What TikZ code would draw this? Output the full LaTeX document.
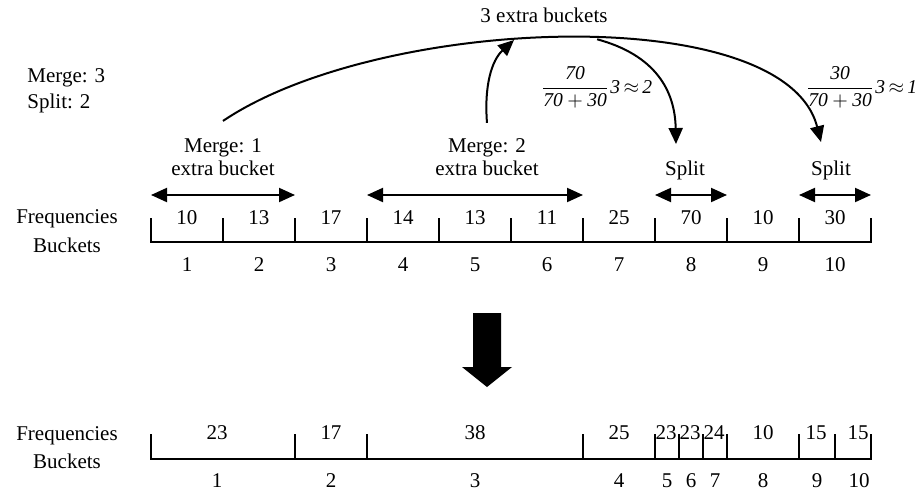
\documentclass[tikz,border=0pt]{standalone}
\usepackage{fontspec}
\setmainfont{Liberation Serif}
\usetikzlibrary{arrows.meta}

\tikzset{
  lbl/.style={font=\fontsize{10.5}{12}\selectfont, inner sep=0pt},
  frac/.style={font=\fontsize{9.8}{12}\selectfont, inner sep=0pt, anchor=base west},
  axis/.style={line width=1.2pt},
  span/.style={<->, line width=1pt},
  link/.style={->, line width=1pt},
}

\begin{document}
\begin{tikzpicture}[x=0.5pt,y=-0.5pt,>={Triangle[length=8pt,width=7pt]}]
\useasboundingbox (0,0) rectangle (918,493);

%% histogram before: ten buckets
\coordinate (a0) at (151,242);
\coordinate (a1) at (223,242);
\coordinate (a2) at (295,242);
\coordinate (a3) at (367,242);
\coordinate (a4) at (439,242);
\coordinate (a5) at (511,242);
\coordinate (a6) at (583,242);
\coordinate (a7) at (655,242);
\coordinate (a8) at (727,242);
\coordinate (a9) at (799,242);
\coordinate (a10) at (871,242);
\draw[axis] ([yshift=12pt]a0) -- (a0) -- (a10) -- ([yshift=12pt]a10);
\draw[axis] (a1) -- ++(0,-24) (a2) -- ++(0,-24) (a3) -- ++(0,-24) (a4) -- ++(0,-24) (a5) -- ++(0,-24)
  (a6) -- ++(0,-24) (a7) -- ++(0,-24) (a8) -- ++(0,-24) (a9) -- ++(0,-24);

\node[lbl,anchor=base] (freqA) at (67,223) {Frequencies};
\node[lbl,anchor=base] (buckA) at (67,252) {Buckets};

\node[lbl] (fa1) at (187,218) {10};
\node[lbl] (fa2) at (259,218) {13};
\node[lbl] (fa3) at (331,218) {17};
\node[lbl] (fa4) at (403,218) {14};
\node[lbl] (fa5) at (475,218) {13};
\node[lbl] (fa6) at (547,218) {11};
\node[lbl] (fa7) at (619,218) {25};
\node[lbl] (fa8) at (691,218) {70};
\node[lbl] (fa9) at (763,218) {10};
\node[lbl] (fa10) at (835,218) {30};

\node[lbl] (na1) at (187,265) {1};
\node[lbl] (na2) at (259,265) {2};
\node[lbl] (na3) at (331,265) {3};
\node[lbl] (na4) at (403,265) {4};
\node[lbl] (na5) at (475,265) {5};
\node[lbl] (na6) at (547,265) {6};
\node[lbl] (na7) at (619,265) {7};
\node[lbl] (na8) at (691,265) {8};
\node[lbl] (na9) at (763,265) {9};
\node[lbl] (na10) at (835,265) {10};

% merge / split ranges
\draw[span] ([yshift=23.5pt]a0) -- ([yshift=23.5pt]a2);
\draw[span] ([yshift=23.5pt]a3) -- ([yshift=23.5pt]a6);
\draw[span] ([yshift=23.5pt]a7) -- ([yshift=23.5pt]a8);
\draw[span] ([yshift=23.5pt]a9) -- ([yshift=23.5pt]a10);

\node[lbl,anchor=base] (mergeA) at (223,152) {Merge: 1};
\node[lbl,anchor=base] (extraA) at (223,175) {extra bucket};
\node[lbl,anchor=base] (mergeB) at (487,152) {Merge: 2};
\node[lbl,anchor=base] (extraB) at (487,175) {extra bucket};
\node[lbl,anchor=base] (splitA) at (685,175) {Split};
\node[lbl,anchor=base] (splitB) at (831,175) {Split};

\node[lbl,anchor=base west] (mergetot) at (27,82) {Merge: 3};
\node[lbl,anchor=base west] (splittot) at (27,108) {Split: 2};
\node[lbl,anchor=base] (extratot) at (544,22) {3 extra buckets};

\node[frac] (shareA) at (543,93) {$\nulldelimiterspace=0pt\thickmuskip=3mu\displaystyle\frac{\textit{70}}{\textit{70}+\textit{30}}\,\textit{3}\approx\textit{2}$};
\node[frac] (shareB) at (808,93) {$\nulldelimiterspace=0pt\thickmuskip=3mu\displaystyle\frac{\textit{30}}{\textit{70}+\textit{30}}\,\textit{3}\approx\textit{1}$};

% pool of extra buckets
\draw[link] ([yshift=8.4pt]mergeA.north) .. controls (380,15) and (785,0) .. coordinate[pos=0.43] (join) coordinate[pos=0.54] (fork) ([xshift=-5pt,yshift=9pt]splitB.north);
\draw[link] (fork) .. controls (655,55) and (675,90) .. ([xshift=-4.5pt,yshift=8pt]splitA.north);
\draw[link] ([yshift=7.4pt]mergeB.north) .. controls (484,85) and (492,60) .. (join);

\fill (473,313) -- (501,313) -- (501,367) -- (512,367) -- (487,387) -- (462,367) -- (473,367) -- cycle;

%% histogram after
\coordinate (b0) at (151,459);
\coordinate (b1) at (295,459);
\coordinate (b2) at (367,459);
\coordinate (b3) at (583,459);
\coordinate (b4) at (655,459);
\coordinate (b5) at (679,459);
\coordinate (b6) at (703,459);
\coordinate (b7) at (727,459);
\coordinate (b8) at (799,459);
\coordinate (b9) at (835,459);
\coordinate (b10) at (871,459);
\draw[axis] ([yshift=12.5pt]b0) -- (b0) -- (b10) -- ([yshift=12.5pt]b10);
\draw[axis] (b1) -- ++(0,-25) (b2) -- ++(0,-25) (b3) -- ++(0,-25) (b4) -- ++(0,-25) (b5) -- ++(0,-25)
  (b6) -- ++(0,-25) (b7) -- ++(0,-25) (b8) -- ++(0,-25) (b9) -- ++(0,-25);

\node[lbl,anchor=base] (freqB) at (67,440) {Frequencies};
\node[lbl,anchor=base] (buckB) at (67,468) {Buckets};

\node[lbl] (fb1) at (217,433) {23};
\node[lbl] (fb2) at (331,433) {17};
\node[lbl] (fb3) at (475,433) {38};
\node[lbl] (fb4) at (619,433) {25};
\node[lbl] (fb5) at (666,433) {23};
\node[lbl] (fb6) at (690,433) {23};
\node[lbl] (fb7) at (714,433) {24};
\node[lbl] (fb8) at (763,433) {10};
\node[lbl] (fb9) at (816,433) {15};
\node[lbl] (fb10) at (858,433) {15};

\node[lbl] (nb1) at (217,481) {1};
\node[lbl] (nb2) at (331,481) {2};
\node[lbl] (nb3) at (475,481) {3};
\node[lbl] (nb4) at (619,481) {4};
\node[lbl] (nb5) at (667,481) {5};
\node[lbl] (nb6) at (691,481) {6};
\node[lbl] (nb7) at (715,481) {7};
\node[lbl] (nb8) at (763,481) {8};
\node[lbl] (nb9) at (817,481) {9};
\node[lbl] (nb10) at (859,481) {10};
\end{tikzpicture}
\end{document}
